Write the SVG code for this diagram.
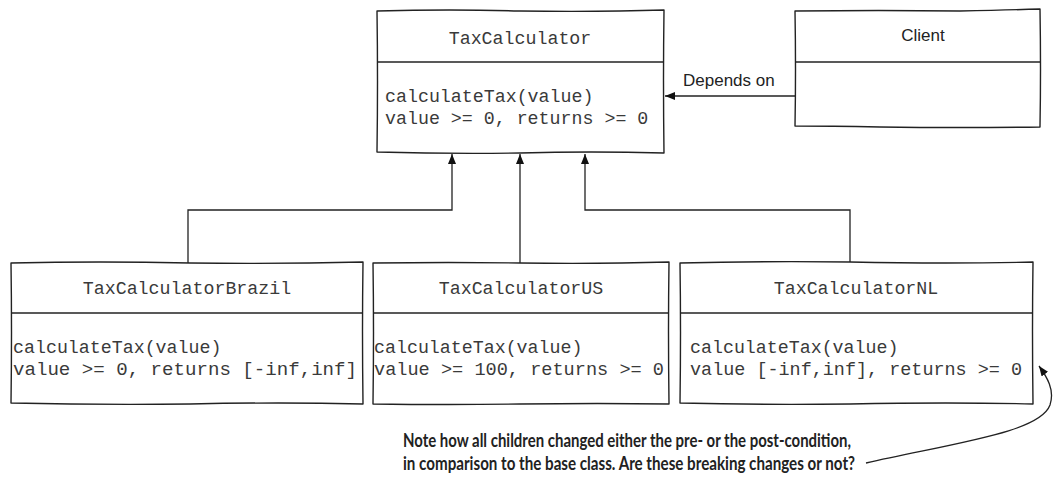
<svg xmlns="http://www.w3.org/2000/svg" width="1057" height="504" viewBox="0 0 1057 504">
<defs>
<style>
.box{fill:#fff;stroke:#222;stroke-width:1.4;stroke-linejoin:round}
.div{stroke:#222;stroke-width:1.3;fill:none}
.mono{font-family:"Liberation Mono","DejaVu Sans Mono",monospace;font-size:18.3px;fill:#3a3a3a}
.sans{font-family:"Liberation Sans",Arial,sans-serif;font-size:17px;fill:#222}
.note{font-family:"Lato","Open Sans",sans-serif;font-weight:bold;font-size:19.5px;fill:#222}
.conn{stroke:#222;stroke-width:1.3;fill:none}
</style>
<marker id="arr" viewBox="0 0 10 8" refX="10" refY="4" markerWidth="10" markerHeight="8" markerUnits="userSpaceOnUse" orient="auto">
<path d="M0,0 L10,4 L0,8 Z" fill="#111"/>
</marker>
</defs>

<g id="connectors">
<path class="conn" d="M188,263 V210 H452 V154" marker-end="url(#arr)"/>
<path class="conn" d="M520,263 V154" marker-end="url(#arr)"/>
<path class="conn" d="M850,263 V210 H585 V154" marker-end="url(#arr)"/>
<path class="conn" d="M795,96 H665" marker-end="url(#arr)"/>
<text class="sans" x="683" y="86">Depends on</text>
<path class="conn" d="M866,463 C960,442 1040,432 1050,405 C1055,390 1047,377 1039,366" marker-end="url(#arr)"/>
</g>

<g id="TaxCalculator">
<path class="box" d="M377,11 Q450,9 520,11 Q600,12 664,10 Q663,80 664,153 Q590,151 520,153 Q450,154 377,152 Q378,80 377,11 Z"/>
<path class="div" d="M377,62 H664"/>
<text class="mono" x="520" y="44" text-anchor="middle">TaxCalculator</text>
<text class="mono" x="385" y="102">calculateTax(value)</text>
<text class="mono" x="385" y="124">value &gt;= 0, returns &gt;= 0</text>
</g>

<g id="Client">
<path class="box" d="M795,11 Q880,10 960,11 Q1010,10 1040,9 Q1041,70 1040,127 Q960,128 880,127 Q830,126 795,126 Q796,70 795,11 Z"/>
<path class="div" d="M795,62 H1040"/>
<text class="sans" x="923" y="41" text-anchor="middle">Client</text>
</g>

<g id="TaxCalculatorBrazil">
<path class="box" d="M11,263 Q100,261 190,263 Q280,264 363,262 Q362,330 363,404 Q280,402 190,404 Q100,405 11,403 Q12,330 11,263 Z"/>
<path class="div" d="M11,313 H363"/>
<text class="mono" x="187" y="294" text-anchor="middle">TaxCalculatorBrazil</text>
<text class="mono" x="13" y="353">calculateTax(value)</text>
<text class="mono" x="13" y="375" textLength="344" lengthAdjust="spacingAndGlyphs">value &gt;= 0, returns [-inf,inf]</text>
</g>

<g id="TaxCalculatorUS">
<path class="box" d="M373,263 Q450,262 520,263 Q600,264 669,262 Q668,330 669,404 Q600,403 520,404 Q450,405 373,404 Q374,330 373,263 Z"/>
<path class="div" d="M373,313 H669"/>
<text class="mono" x="521" y="294" text-anchor="middle">TaxCalculatorUS</text>
<text class="mono" x="374" y="353">calculateTax(value)</text>
<text class="mono" x="374" y="375" textLength="290" lengthAdjust="spacingAndGlyphs">value &gt;= 100, returns &gt;= 0</text>
</g>

<g id="TaxCalculatorNL">
<path class="box" d="M680,263 Q760,261 850,262 Q950,264 1033,262 Q1032,330 1033,404 Q950,402 850,404 Q760,405 680,403 Q681,330 680,263 Z"/>
<path class="div" d="M680,313 H1033"/>
<text class="mono" x="856" y="294" text-anchor="middle">TaxCalculatorNL</text>
<text class="mono" x="690" y="353">calculateTax(value)</text>
<text class="mono" x="690" y="375" textLength="332" lengthAdjust="spacingAndGlyphs">value [-inf,inf], returns &gt;= 0</text>
</g>

<g id="note">
<text class="note" x="403" y="447" textLength="448" lengthAdjust="spacingAndGlyphs">Note how all children changed either the pre- or the post-condition,</text>
<text class="note" x="403" y="470" textLength="452" lengthAdjust="spacingAndGlyphs">in comparison to the base class. Are these breaking changes or not?</text>
</g>
</svg>
